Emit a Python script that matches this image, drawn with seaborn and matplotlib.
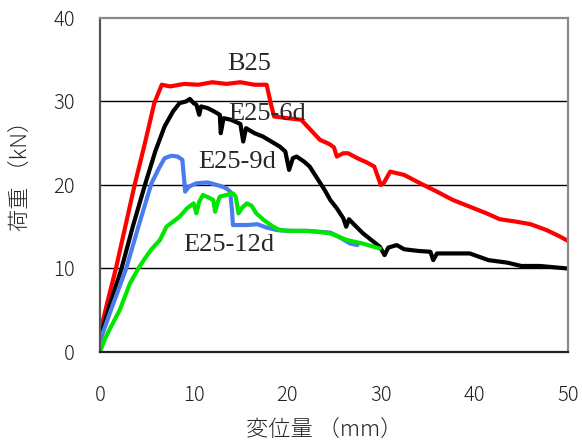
import matplotlib
matplotlib.use('Agg')
from matplotlib import pyplot as plt
import seaborn as sns
import pandas as pd

# load-displacement curves
b25_x = [0, 0.8, 1.7, 2.7, 3.7, 4.8, 5.8, 6.6, 7.5, 9, 10.5, 12, 13.5, 15, 16.5, 17.8,
         18.3, 18.6, 20, 21.5, 22.5, 23.5, 24.5, 25.0, 25.3, 26.0, 26.5, 27.5, 28.5, 29.3,
         30.0, 30.3, 31.0, 32.5, 34.2, 36, 37.7, 39.5, 41.3, 42.7, 44.5, 46, 47.7, 49, 50]
b25_y = [2.3, 6, 10, 15, 20, 25, 29.8, 32, 31.8, 32.1, 32.0, 32.3, 32.1, 32.3, 32.0, 32.0,
         29.5, 28.2, 28.0, 27.8, 26.6, 25.4, 24.9, 24.5, 23.4, 23.8, 23.8, 23.2, 22.7, 22.2,
         20.0, 20.2, 21.6, 21.2, 20.2, 19.2, 18.2, 17.4, 16.6, 15.9, 15.6, 15.3, 14.6, 13.9, 13.3]

e6_x = [0, 1, 2.3, 3.5, 4.8, 5.9, 6.9, 7.8, 8.5, 9.2, 9.6, 10.0, 10.3, 10.6, 10.8, 11.5,
        12.2, 12.8, 12.9, 13.2, 14.0, 15.0, 15.3, 15.6, 16.5, 17.4, 18.3, 19.2, 19.8, 20.2,
        20.6, 21.0, 21.8, 22.4, 23.2, 24.0, 24.6, 25.3, 26.0, 26.3, 26.6, 27.2, 28.1, 29.0,
        29.9, 30.4, 30.8, 31.7, 32.5, 34, 35.3, 35.6, 36.0, 37.5, 39.5, 40.5, 41.5, 43.5,
        45, 47, 49.9]
e6_y = [1.6, 5.5, 10, 15, 20, 24, 27, 28.8, 29.8, 30.0, 30.3, 29.8, 29.6, 28.4, 29.4, 29.2,
        28.8, 28.4, 26.2, 28.0, 27.8, 27.3, 25.2, 26.8, 26.2, 25.8, 25.2, 24.6, 24.0, 21.8,
        23.2, 23.4, 22.8, 22.2, 20.8, 19.4, 18.2, 17.2, 16.0, 15.0, 15.9, 15.2, 14.2, 13.4,
        12.6, 11.6, 12.5, 12.8, 12.3, 12.1, 12.0, 11.0, 11.8, 11.8, 11.8, 11.4, 11.0, 10.7,
        10.3, 10.3, 10.0]

e9_x = [0, 1, 2.8, 4.1, 5.5, 6.3, 6.9, 7.6, 8.3, 8.8, 9.0, 9.1, 9.5, 10.3, 11.5, 12.8,
        13.5, 13.9, 14.1, 14.2, 15.0, 15.7, 16.8, 17.8, 18.9, 20, 22, 24.6, 25.5, 26.7, 27.5]
e9_y = [1.3, 4.5, 10, 15, 20.2, 22.0, 23.2, 23.5, 23.4, 23.0, 20.5, 19.2, 19.8, 20.2, 20.3, 19.9,
        19.6, 19.2, 17.0, 15.2, 15.2, 15.2, 15.3, 14.9, 14.6, 14.5, 14.5, 14.3, 13.8, 13.0, 12.8]

e12_x = [0, 0.5, 1.07, 2.1, 3.2, 4.1, 4.8, 5.5, 6.4, 7.1, 8.5, 9.3, 10.0, 10.3, 10.6, 11.0,
         11.6, 12.1, 12.3, 12.6, 12.8, 13.5, 14.2, 14.5, 14.8, 15.2, 15.7, 16.2, 16.7, 17.5,
         18.5, 19.2, 20.5, 22.4, 24.6, 26.4, 28.0, 29.9]
e12_y = [0, 1.5, 2.8, 5, 8.2, 10, 11.2, 12.3, 13.4, 15, 16.2, 17.2, 17.8, 16.6, 18.0, 18.8,
         18.5, 18.2, 16.8, 18.0, 18.6, 18.8, 19.0, 18.6, 16.6, 17.3, 17.8, 17.5, 16.6, 15.8,
         15.0, 14.6, 14.5, 14.5, 14.2, 13.4, 13.0, 12.4]

series = [('B25', b25_x, b25_y, '#ff0000'),
          ('E25-6d', e6_x, e6_y, '#000000'),
          ('E25-9d', e9_x, e9_y, '#4a7cf0'),
          ('E25-12d', e12_x, e12_y, '#00e600')]

# where the curve names sit (left, baseline)
label_pos = {'B25': (13.6, 33.8), 'E25-6d': (13.7, 27.8),
             'E25-9d': (10.5, 22.0), 'E25-12d': (8.9, 12.1)}

sns.set_style('white')
plt.rcParams['font.family'] = ['Noto Sans CJK JP', 'DejaVu Sans']

fig = plt.figure(figsize=(5.82, 4.48), dpi=100)
ax = fig.add_axes([0.1718, 0.2143, 0.8042, 0.7457])

for name, xs, ys, col in series:
    df = pd.DataFrame({'x': xs, 'y': ys})
    sns.lineplot(data=df, x='x', y='y', ax=ax, color=col, linewidth=3.0,
                 sort=False, estimator=None, legend=False)

for name, (tx, ty) in label_pos.items():
    ax.text(tx, ty, name, family='Liberation Serif', fontsize=19,
            ha='left', va='baseline', zorder=10)

ax.set_xlim(0, 50)
ax.set_ylim(0, 40)
ax.set_xticks([0, 10, 20, 30, 40, 50])
ax.set_yticks([0, 10, 20, 30, 40])
for v in [10, 20, 30]:
    ax.axhline(v, color='black', linewidth=1.0, zorder=0)

ax.tick_params(axis='x', direction='in', length=6, width=1.2, pad=24,
               labelsize=14.5, colors='#222222')
ax.tick_params(axis='y', length=0, pad=18, labelsize=14.5, colors='#222222')
for lab in ax.get_xticklabels() + ax.get_yticklabels():
    lab.set_fontweight('light')

ax.spines['top'].set_color('#8a8a8a')
ax.spines['right'].set_color('#8a8a8a')
ax.spines['left'].set_color('#555555')
ax.spines['bottom'].set_color('#222222')
for s in ax.spines.values():
    s.set_linewidth(1.6)

ax.set_xlabel('変位量 （mm）', fontsize=16, fontweight='light')
ax.set_ylabel('荷重 （kN）', fontsize=16, fontweight='light')
ax.xaxis.set_label_coords(0.48, -0.204)
ax.yaxis.set_label_coords(-0.143, 0.545)

fig.savefig('out.png', dpi=100)
